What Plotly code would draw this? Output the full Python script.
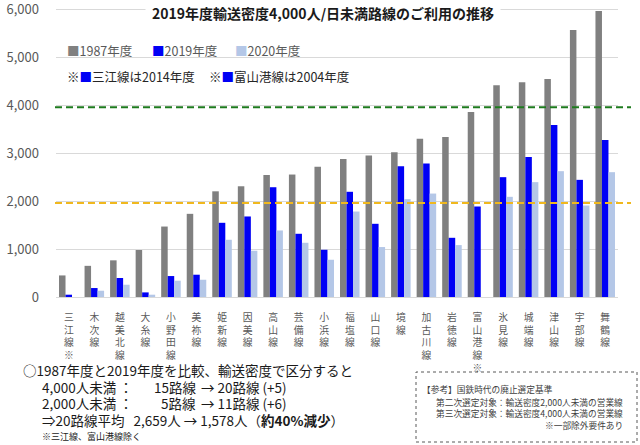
import plotly.graph_objects as go

# ---------------- data ----------------
routes = ["三江線※", "木次線", "越美北線", "大糸線", "小野田線", "美祢線", "姫新線",
          "因美線", "高山線", "芸備線", "小浜線", "福塩線", "山口線", "境線",
          "加古川線", "岩徳線", "富山港線※", "氷見線", "城端線", "津山線", "宇部線", "舞鶴線"]
density_1987 = [450, 650, 765, 980, 1470, 1735, 2205, 2310, 2545, 2555, 2715,
                2880, 2950, 3020, 3300, 3340, 3860, 4415, 4480, 4550, 5570, 5965]
density_2019 = [48, 187, 396, 96, 437, 465, 1548, 1680, 2290, 1319, 985,
                2195, 1527, 2730, 2783, 1235, 1888, 2500, 2923, 3590, 2444, 3277]
density_2020 = [None, 131, 256, 48, 340, 360, 1194, 965, 1388, 1131, 777,
                1783, 1042, 2042, 2158, 1083, None, 2090, 2396, 2625, 1908, 2604]
series_names = ["1987年度", "2019年度", "2020年度"]
threshold_upper = 3960   # green dashed line
threshold_lower = 1960   # orange dashed line
y_tickvals = [0, 1000, 2000, 3000, 4000, 5000, 6000]
y_ticktext = ["0", "1,000", "2,000", "3,000", "4,000", "5,000", "6,000"]

# ---------------- style ----------------
FONT = "Noto Sans CJK JP"
C_GRAY, C_BLUE, C_LIGHT = "#808080", "#0000F5", "#B4C7E7"
W, H = 640, 445
L, R, T, B = 56, 22, 7, 148
PW, PH = W - L - R, H - T - B


def px(x):
    return (x - L) / PW


def py(y):
    return (H - B - y) / PH


fig = go.Figure()
for name, vals, col in zip(series_names, [density_1987, density_2019, density_2020],
                           [C_GRAY, C_BLUE, C_LIGHT]):
    fig.add_trace(go.Bar(x=routes, y=vals, name=name, marker=dict(color=col, line=dict(width=0)),
                         showlegend=False, hoverinfo="skip"))

ticktext = ["<br>".join(list(r)) for r in routes]

fig.update_layout(
    width=W, height=H, autosize=False,
    margin=dict(l=L, r=R, t=T, b=B, autoexpand=False),
    paper_bgcolor="white", plot_bgcolor="white",
    barmode="group", bargap=0.235, bargroupgap=0,
    font=dict(family=FONT, color="#595959"),
    xaxis=dict(type="category", tickvals=routes, ticktext=ticktext, tickangle=0,
               tickfont=dict(size=9.8, color="#595959", family=FONT), automargin=False,
               showgrid=False, showline=False, ticks="", ticklabelstandoff=13),
    yaxis=dict(range=[0, 6050], tickvals=y_tickvals, ticktext=y_ticktext, automargin=False,
               tickfont=dict(size=13, color="#595959", family=FONT), ticklabeloverflow="allow",
               showgrid=True, gridcolor="#D9D9D9", gridwidth=1,
               zeroline=True, zerolinecolor="#D9D9D9", zerolinewidth=1,
               showline=False, ticks="", ticklabelstandoff=16),
)

# threshold dashed lines
for yv, col in [(threshold_upper, "#1E7B1E"), (threshold_lower, "#F0B81E")]:
    fig.add_shape(type="line", xref="paper", yref="y", x0=px(55), x1=px(631), y0=yv, y1=yv,
                  line=dict(color=col, width=2, dash="7px,4px"), layer="above")

ann = []


def text(x, y, s, size, color="#1a1a1a", anchor="left", **kw):
    ann.append(dict(x=px(x), y=py(y), xref="paper", yref="paper", text=s, showarrow=False,
                    xanchor=anchor, yanchor="middle", align=anchor if anchor != "center" else "center",
                    font=dict(size=size, color=color, family=FONT), borderpad=0, **kw))


# title
ann.append(dict(x=px(322.5), y=py(12.7), xref="paper", yref="paper", showarrow=False,
                text="<b>2019年度輸送密度4,000人/日未満路線のご利用の推移</b>",
                xanchor="center", yanchor="middle", bgcolor="white", borderpad=6,
                font=dict(size=14, color="#1a1a1a", family=FONT)))

# legend row 1
for x, name, col in zip([65.5, 150.5, 233.5], series_names, [C_GRAY, C_BLUE, C_LIGHT]):
    text(x, 50.7, f"<span style='color:{col}'>■</span>{name}", 12.5, color="#595959")
# legend row 2
text(66, 76, f"※<span style='color:{C_BLUE}'>■</span>三江線は2014年度", 12.5, color="#262626")
text(208, 76, f"※<span style='color:{C_BLUE}'>■</span>富山港線は2004年度", 12.5, color="#262626")

# bottom summary
fs = 13.5
text(22, 370, "○1987年度と2019年度を比較、輸送密度で区分すると", fs)
text(41, 386.7, "4,000人未満 ：", fs)
text(197, 386.7, "15路線", fs, anchor="right")
text(200, 386.7, "→ 20路線 (+5)", fs)
text(41, 403.3, "2,000人未満 ：", fs)
text(197, 403.3, "5路線", fs, anchor="right")
text(200, 403.3, "→ 11路線 (+6)", fs)
text(41, 420, "⇒20路線平均\u00a0\u00a0 2,659人 → 1,578人（<b>約40%減少</b>）", fs)
text(41, 436, "※三江線、富山港線除く", 9)

# reference box
fig.add_shape(type="rect", xref="paper", yref="paper", x0=px(416), x1=px(637), y0=py(442), y1=py(372),
              line=dict(color="#595959", width=1, dash="dot"))
bs = 8.7
text(421, 389, "【参考】国鉄時代の廃止選定基準", bs, color="#404040")
text(624, 402, "第二次選定対象：輸送密度2,000人未満の営業線", bs, color="#404040", anchor="right")
text(624, 413, "第三次選定対象：輸送密度4,000人未満の営業線", bs, color="#404040", anchor="right")
text(624, 425, "※一部除外要件あり", bs, color="#404040", anchor="right")

fig.update_layout(annotations=ann)
fig.write_html("out.html", config={"displayModeBar": False, "staticPlot": True},
               post_script="document.body.style.margin='0';document.body.style.overflow='hidden';")
